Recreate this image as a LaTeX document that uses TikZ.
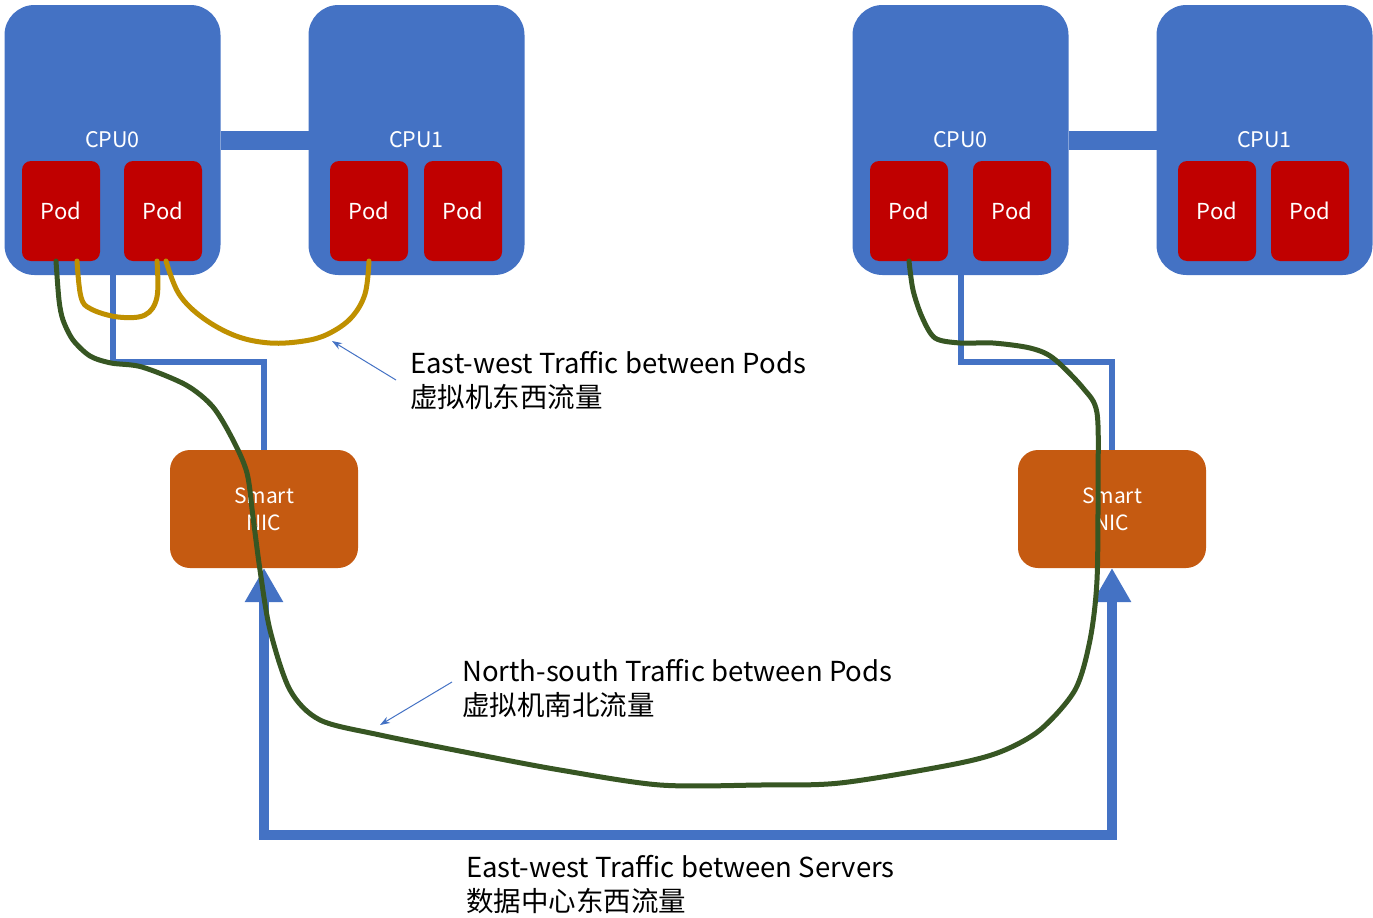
\documentclass[tikz,border=0pt]{standalone}
\usepackage{fontspec}
\setmainfont{Noto Sans CJK SC}
\usetikzlibrary{positioning,arrows.meta}
\definecolor{CpuBlue}{HTML}{4472C4}
\definecolor{PodRed}{HTML}{C00000}
\definecolor{NicOrange}{HTML}{C55A11}
\definecolor{EwGold}{HTML}{BF9000}
\definecolor{NsGreen}{HTML}{375623}

\begin{document}
\begin{tikzpicture}[
  x=1pt, y=-1pt,
  cpu/.style={fill=CpuBlue, rounded corners=30pt, minimum width=216pt, minimum height=270pt, inner sep=0pt, outer sep=0pt, text=white, font=\fontsize{21.5}{24}\selectfont},
  pod/.style={fill=PodRed, rounded corners=9pt, minimum width=78pt, minimum height=100pt, inner sep=0pt, outer sep=0pt, text=white, font=\fontsize{22}{24}\selectfont},
  nic/.style={fill=NicOrange, rounded corners=20pt, minimum width=188pt, minimum height=118pt, inner sep=0pt, outer sep=0pt, text=white, align=center, font=\fontsize{21}{27}\selectfont},
  note/.style={anchor=west, align=left, inner sep=0pt, font=\fontsize{27.5}{34}\selectfont},
  qpi/.style={draw=CpuBlue, line width=19pt},
  wire/.style={draw=CpuBlue, line width=6pt},
  bus/.style={draw=CpuBlue, line width=10pt, {Triangle[width=36pt,length=34pt]}-{Triangle[width=36pt,length=34pt]}},
  ewflow/.style={draw=EwGold, line width=5pt, line cap=round},
  nsflow/.style={draw=NsGreen, line width=5pt, line cap=round},
  hint/.style={draw=CpuBlue, line width=1pt, -{Stealth[length=10pt,width=7pt]}}
]
\useasboundingbox (0,0) rectangle (1373,918);

% server A
\node[cpu] (cpuA0) at (112.5,140) {CPU0};
\node[cpu] (cpuA1) at (416.5,140) {CPU1};
\node[pod] (podA1) at (61,211) {Pod};
\node[pod] (podA2) at (163,211) {Pod};
\node[pod] (podA3) at (369,211) {Pod};
\node[pod] (podA4) at (463,211) {Pod};
\node[nic] (nicA) at (264,509) {Smart\\NIC};

% server B
\node[cpu] (cpuB0) at (960.5,140) {CPU0};
\node[cpu] (cpuB1) at (1264.5,140) {CPU1};
\node[pod] (podB1) at (909,211) {Pod};
\node[pod] (podB2) at (1012,211) {Pod};
\node[pod] (podB3) at (1217,211) {Pod};
\node[pod] (podB4) at (1310,211) {Pod};
\node[nic] (nicB) at (1112,509) {Smart\\NIC};

\draw[qpi] (cpuA0.east) -- (cpuA1.west);
\draw[qpi] (cpuB0.east) -- (cpuB1.west);

\draw[wire] (cpuA0.south) |- ([yshift=88pt]nicA.north) -- (nicA.north);
\draw[wire] (cpuB0.south) |- ([yshift=88pt]nicB.north) -- (nicB.north);

\coordinate (loop) at (1112,835);
\draw[bus] (nicA.south) |- (loop) -- (nicB.south);

\draw[ewflow] plot[smooth, tension=0.6] coordinates {([xshift=16pt]podA1.south) (81,297) (91,309) (118,317) (145,315) (157,297) ([xshift=-6pt]podA2.south)};
\draw[ewflow] plot[smooth, tension=0.6] coordinates {([xshift=3pt]podA2.south) (179,294) (203,318) (236,336) (270,343) (304,341) (328,334) (351,318) (365,294) (podA3.south)};

\draw[nsflow] plot[smooth, tension=0.5] coordinates {([xshift=-5pt]podA1.south) (59,300) (63,320) (73,340) (90,356) (111,363) (142,367) (186,385) (213,407) (233,440) (247,473) (253,517) (260,570) (270,630) (290,690) (320,720) (380,735) (480,755) (560,770) (660,785) (760,785) (840,783) (950,765) (1000,752) (1040,730) (1075,690) (1090,640) (1097,580) (1098,483) (1097,413) (1083,388) (1053,358) (1030,348) (993,343) (960,343) (935,338) (922,317) (913,290) (podB1.south)};

\node[note] (ewPods) at (410,380) {East-west Traffic between Pods\\虚拟机东西流量};
\node[note] (nsPods) at (462,688) {North-south Traffic between Pods\\虚拟机南北流量};
\node[note] (ewSrv) at (466,885) {East-west Traffic between Servers\\数据中心东西流量};

\coordinate (ewTip) at (332,341);
\coordinate (nsTip) at (380,725);
\draw[hint] ([xshift=-14pt]ewPods.west) -- (ewTip);
\draw[hint] ([xshift=-10pt,yshift=6pt]nsPods.west) -- (nsTip);
\end{tikzpicture}
\end{document}
